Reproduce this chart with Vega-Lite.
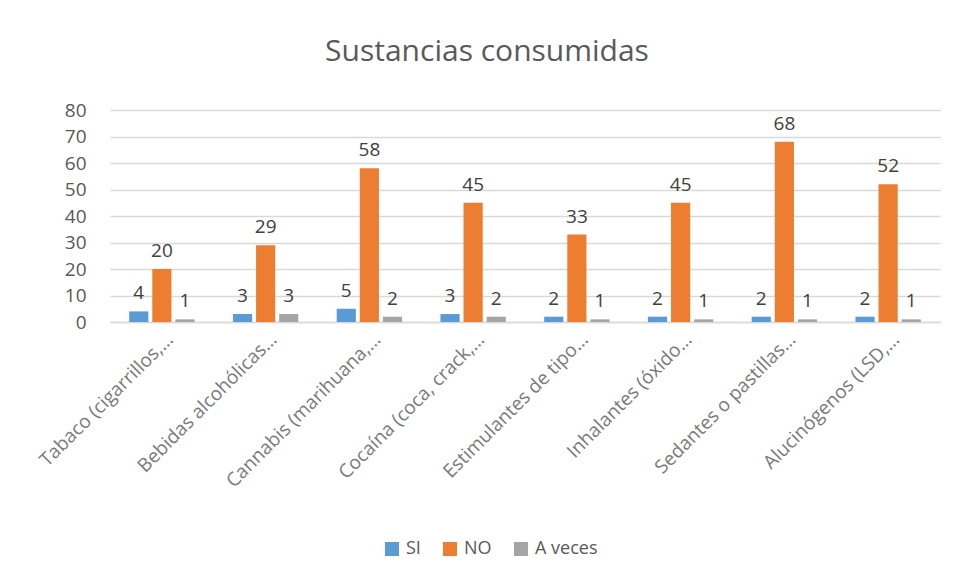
{
  "$schema": "https://vega.github.io/schema/vega-lite/v6.json",
  "width": 830,
  "height": 212,
  "autosize": {"type": "none"},
  "padding": {"left": 110, "top": 110, "right": 19, "bottom": 260},
  "background": "white",
  "config": {"view": {"stroke": null}, "font": "Open Sans"},
  "title": {"text": "Sustancias consumidas", "fontSize": 30, "font": "Open Sans", "fontWeight": "normal", "color": "#595959", "anchor": "middle", "frame": "group", "offset": 34, "dx": -38},
  "data": {"values": [
    {"sustancia": "Tabaco (cigarrillos,…", "respuesta": "SI", "valor": 4},
    {"sustancia": "Tabaco (cigarrillos,…", "respuesta": "NO", "valor": 20},
    {"sustancia": "Tabaco (cigarrillos,…", "respuesta": "A veces", "valor": 1},
    {"sustancia": "Bebidas alcohólicas…", "respuesta": "SI", "valor": 3},
    {"sustancia": "Bebidas alcohólicas…", "respuesta": "NO", "valor": 29},
    {"sustancia": "Bebidas alcohólicas…", "respuesta": "A veces", "valor": 3},
    {"sustancia": "Cannabis (marihuana,…", "respuesta": "SI", "valor": 5},
    {"sustancia": "Cannabis (marihuana,…", "respuesta": "NO", "valor": 58},
    {"sustancia": "Cannabis (marihuana,…", "respuesta": "A veces", "valor": 2},
    {"sustancia": "Cocaína (coca, crack,…", "respuesta": "SI", "valor": 3},
    {"sustancia": "Cocaína (coca, crack,…", "respuesta": "NO", "valor": 45},
    {"sustancia": "Cocaína (coca, crack,…", "respuesta": "A veces", "valor": 2},
    {"sustancia": "Estimulantes de tipo…", "respuesta": "SI", "valor": 2},
    {"sustancia": "Estimulantes de tipo…", "respuesta": "NO", "valor": 33},
    {"sustancia": "Estimulantes de tipo…", "respuesta": "A veces", "valor": 1},
    {"sustancia": "Inhalantes (óxido…", "respuesta": "SI", "valor": 2},
    {"sustancia": "Inhalantes (óxido…", "respuesta": "NO", "valor": 45},
    {"sustancia": "Inhalantes (óxido…", "respuesta": "A veces", "valor": 1},
    {"sustancia": "Sedantes o pastillas…", "respuesta": "SI", "valor": 2},
    {"sustancia": "Sedantes o pastillas…", "respuesta": "NO", "valor": 68},
    {"sustancia": "Sedantes o pastillas…", "respuesta": "A veces", "valor": 1},
    {"sustancia": "Alucinógenos (LSD,…", "respuesta": "SI", "valor": 2},
    {"sustancia": "Alucinógenos (LSD,…", "respuesta": "NO", "valor": 52},
    {"sustancia": "Alucinógenos (LSD,…", "respuesta": "A veces", "valor": 1}
  ]},
  "encoding": {
    "x": {
      "field": "sustancia", "type": "nominal",
      "sort": ["Tabaco (cigarrillos,…", "Bebidas alcohólicas…", "Cannabis (marihuana,…", "Cocaína (coca, crack,…", "Estimulantes de tipo…", "Inhalantes (óxido…", "Sedantes o pastillas…", "Alucinógenos (LSD,…"],
      "scale": {"paddingInner": 0.37, "paddingOuter": 0.185},
      "axis": {"title": null, "labelAngle": -45, "labelAlign": "right", "labelBaseline": "middle", "labelFontSize": 19, "labelColor": "#7a7a7a", "labelPadding": 14, "labelOffset": 8, "ticks": false, "domain": true, "domainColor": "#d9d9d9", "domainWidth": 1.5, "labelLimit": 300}
    },
    "xOffset": {"field": "respuesta", "type": "nominal", "sort": ["SI", "NO", "A veces"], "scale": {"paddingInner": 0.17}},
    "y": {
      "field": "valor", "type": "quantitative",
      "scale": {"domain": [0, 80]},
      "axis": {"title": null, "values": [0, 10, 20, 30, 40, 50, 60, 70, 80], "labelFontSize": 19, "labelColor": "#595959", "labelPadding": 24, "ticks": false, "domain": false, "gridColor": "#d9d9d9", "gridWidth": 1.5}
    }
  },
  "layer": [
    {
      "mark": {"type": "bar"},
      "encoding": {
        "color": {
          "field": "respuesta", "type": "nominal",
          "scale": {"domain": ["SI", "NO", "A veces"], "range": ["#5B9BD5", "#ED7D31", "#A5A5A5"]},
          "legend": {"title": null, "orient": "none", "legendX": 273, "legendY": 430, "direction": "horizontal", "symbolType": "square", "symbolSize": 196, "symbolStrokeWidth": 0, "symbolOpacity": 1, "labelFontSize": 18, "labelColor": "#595959", "labelOffset": 5, "columnPadding": 20}
        }
      }
    },
    {
      "mark": {"type": "text", "baseline": "bottom", "dy": -8, "fontSize": 19, "color": "#404040"},
      "encoding": {"text": {"field": "valor", "type": "quantitative"}}
    }
  ]
}
